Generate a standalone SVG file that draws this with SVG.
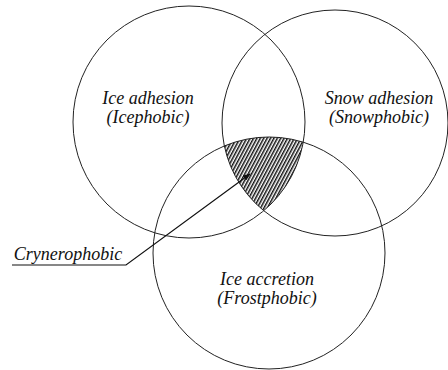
<svg xmlns="http://www.w3.org/2000/svg" width="448" height="370" viewBox="0 0 448 370">
<style>
.c{fill:none;stroke:#222;stroke-width:1}
.t{font-family:"Liberation Serif","Times New Roman",serif;font-style:italic;font-size:18px;fill:#111;text-anchor:middle}
.l{fill:none;stroke:#111;stroke-width:1.2}
</style>
<defs>
<pattern id="hatch" width="3" height="3" patternUnits="userSpaceOnUse" patternTransform="rotate(28)">
<rect width="3" height="3" fill="#fff"/>
<line x1="0.75" y1="0" x2="0.75" y2="3" stroke="#111" stroke-width="1.5"/>
</pattern>
<clipPath id="k1"><circle cx="189" cy="122" r="116"/></clipPath>
<clipPath id="k2"><circle cx="335" cy="123" r="113"/></clipPath>
<marker id="arr" markerWidth="8" markerHeight="6" refX="7" refY="3" orient="auto" markerUnits="userSpaceOnUse">
<path d="M0,0 L8,3 L0,6 Z" fill="#111"/>
</marker>
</defs>
<g id="hatched" clip-path="url(#k1)">
<g clip-path="url(#k2)">
<circle cx="269" cy="253" r="116" fill="url(#hatch)"/>
</g>
</g>
<g id="ice-adhesion">
<circle class="c" cx="189" cy="122" r="116"/>
<text class="t" x="148" y="104">Ice adhesion</text>
<text class="t" x="148" y="123">(Icephobic)</text>
</g>
<g id="snow-adhesion">
<circle class="c" cx="335" cy="123" r="113"/>
<text class="t" x="379" y="104">Snow adhesion</text>
<text class="t" x="379" y="123">(Snowphobic)</text>
</g>
<g id="ice-accretion">
<circle class="c" cx="269" cy="253" r="116"/>
<text class="t" x="267" y="285">Ice accretion</text>
<text class="t" x="267" y="304">(Frostphobic)</text>
</g>
<g id="crynerophobic">
<text class="t" x="68" y="260">Crynerophobic</text>
</g>
<g id="connectors">
<polyline class="l" points="12,265 126,265 250,174" marker-end="url(#arr)"/>
</g>
</svg>
